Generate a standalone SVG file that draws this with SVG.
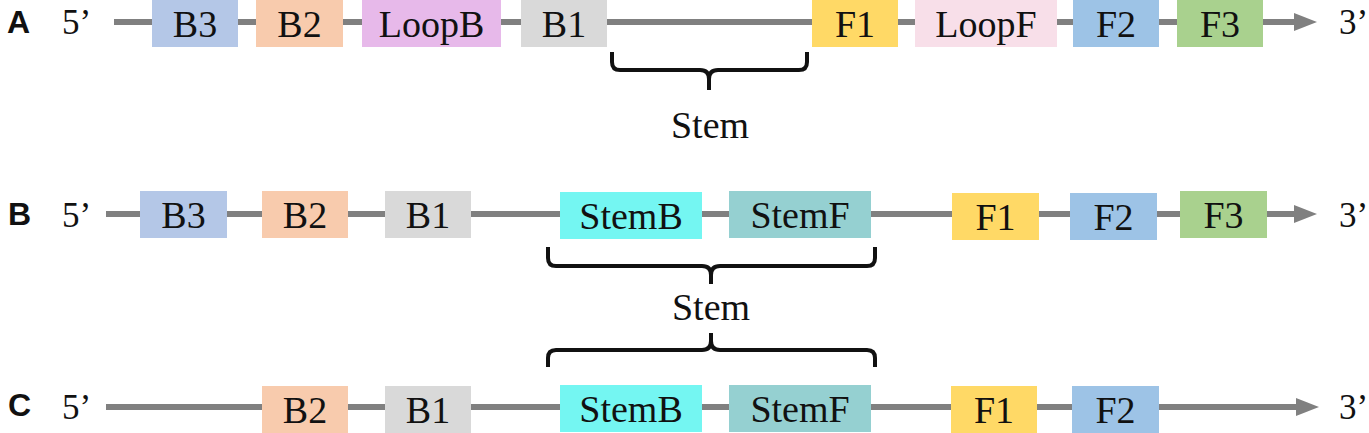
<svg xmlns="http://www.w3.org/2000/svg" width="1369" height="433" viewBox="0 0 1369 433">
<style>
.bb{stroke:#808080;stroke-width:6;fill:none}
.br{stroke:#111;stroke-width:4;fill:none;stroke-linejoin:round}
.t{font-family:"Liberation Serif","Times New Roman",serif;font-size:38px;fill:#111;text-anchor:middle}
.e{font-family:"Liberation Serif","Times New Roman",serif;font-size:35px;fill:#111}
.lab{font-family:"Liberation Sans",Arial,sans-serif;font-size:32px;font-weight:bold;fill:#111}
.st{font-family:"Liberation Serif","Times New Roman",serif;font-size:38px;fill:#111;text-anchor:middle}
</style>
<defs>
<marker id="ah" markerUnits="userSpaceOnUse" markerWidth="26" markerHeight="20" refX="2" refY="9" orient="auto">
<path d="M0,0 L23,9 L0,18 z" fill="#808080"/>
</marker>
</defs>
<g id="connectors">
<line class="bb" x1="114" y1="22" x2="1296" y2="22" marker-end="url(#ah)"/>
<line class="bb" x1="106" y1="214" x2="1296" y2="214" marker-end="url(#ah)"/>
<line class="bb" x1="106" y1="407" x2="1298" y2="407" marker-end="url(#ah)"/>
</g>
<g id="labels">
<text class="lab" x="7" y="33">A</text>
<text class="lab" x="8" y="225">B</text>
<text class="lab" x="8" y="416">C</text>
<text class="e" x="62" y="34">5’</text>
<text class="e" x="62" y="227">5’</text>
<text class="e" x="62" y="419">5’</text>
<text class="e" x="1339" y="34">3’</text>
<text class="e" x="1339" y="227">3’</text>
<text class="e" x="1339" y="419">3’</text>
</g>
<!-- Row A -->
<g id="A_B3"><rect x="152" y="0" width="86" height="47" fill="#b4c7e7"/><text class="t" x="195" y="37">B3</text></g>
<g id="A_B2"><rect x="256" y="0" width="87" height="47" fill="#f8cbad"/><text class="t" x="299.5" y="37">B2</text></g>
<g id="A_LoopB"><rect x="362" y="0" width="139" height="47" fill="#e7b9ea"/><text class="t" x="431.5" y="37">LoopB</text></g>
<g id="A_B1"><rect x="521" y="0" width="86" height="47" fill="#d9d9d9"/><text class="t" x="564" y="37">B1</text></g>
<g id="A_F1"><rect x="812" y="0" width="86" height="47" fill="#ffd966"/><text class="t" x="855" y="37">F1</text></g>
<g id="A_LoopF"><rect x="915" y="0" width="142" height="47" fill="#f8dfe9"/><text class="t" x="986" y="37">LoopF</text></g>
<g id="A_F2"><rect x="1073" y="0" width="86" height="47" fill="#9dc3e6"/><text class="t" x="1116" y="37">F2</text></g>
<g id="A_F3"><rect x="1177" y="0" width="86" height="47" fill="#a9d18e"/><text class="t" x="1220" y="37">F3</text></g>
<g id="A_stem">
<path class="br" d="M612,52 L612,62 Q612,70 620,70 L700,70 Q709,70 709,79 L709,90 M709,79 Q709,70 718,70 L799,70 Q807,70 807,62 L807,52"/>
<text class="st" x="710" y="138">Stem</text>
</g>
<!-- Row B -->
<g id="B_B3"><rect x="140" y="191" width="87" height="47" fill="#b4c7e7"/><text class="t" x="183.5" y="228">B3</text></g>
<g id="B_B2"><rect x="262" y="191" width="86" height="47" fill="#f8cbad"/><text class="t" x="305" y="228">B2</text></g>
<g id="B_B1"><rect x="385" y="191" width="86" height="47" fill="#d9d9d9"/><text class="t" x="428" y="228">B1</text></g>
<g id="B_StemB"><rect x="560" y="192" width="142" height="47" fill="#74f6f2"/><text class="t" x="631" y="229">StemB</text></g>
<g id="B_StemF"><rect x="729" y="191" width="142" height="47" fill="#95d0d1"/><text class="t" x="800" y="228">StemF</text></g>
<g id="B_F1"><rect x="952" y="193" width="87" height="47" fill="#ffd966"/><text class="t" x="995.5" y="230">F1</text></g>
<g id="B_F2"><rect x="1070" y="193" width="87" height="47" fill="#9dc3e6"/><text class="t" x="1113.5" y="230">F2</text></g>
<g id="B_F3"><rect x="1180" y="191" width="87" height="47" fill="#a9d18e"/><text class="t" x="1223.5" y="228">F3</text></g>
<g id="B_stem">
<path class="br" d="M548,247 L548,258 Q548,266 556,266 L702,266 Q711,266 711,275 L711,284 M711,275 Q711,266 720,266 L867,266 Q875,266 875,258 L875,247"/>
<text class="st" x="711" y="320">Stem</text>
</g>
<!-- Row C -->
<g id="C_B2"><rect x="262" y="386" width="86" height="47" fill="#f8cbad"/><text class="t" x="305" y="423">B2</text></g>
<g id="C_B1"><rect x="385" y="386" width="86" height="47" fill="#d9d9d9"/><text class="t" x="428" y="423">B1</text></g>
<g id="C_StemB"><rect x="560" y="385" width="142" height="47" fill="#74f6f2"/><text class="t" x="631" y="422">StemB</text></g>
<g id="C_StemF"><rect x="729" y="385" width="142" height="47" fill="#95d0d1"/><text class="t" x="800" y="422">StemF</text></g>
<g id="C_F1"><rect x="951" y="386" width="86" height="47" fill="#ffd966"/><text class="t" x="994" y="423">F1</text></g>
<g id="C_F2"><rect x="1072" y="386" width="87" height="47" fill="#9dc3e6"/><text class="t" x="1115.5" y="423">F2</text></g>
<g id="C_stem">
<path class="br" d="M548,367 L548,358 Q548,350 556,350 L702,350 Q711,350 711,341 L711,333 M711,341 Q711,350 720,350 L867,350 Q875,350 875,358 L875,367"/>
</g>
</svg>
